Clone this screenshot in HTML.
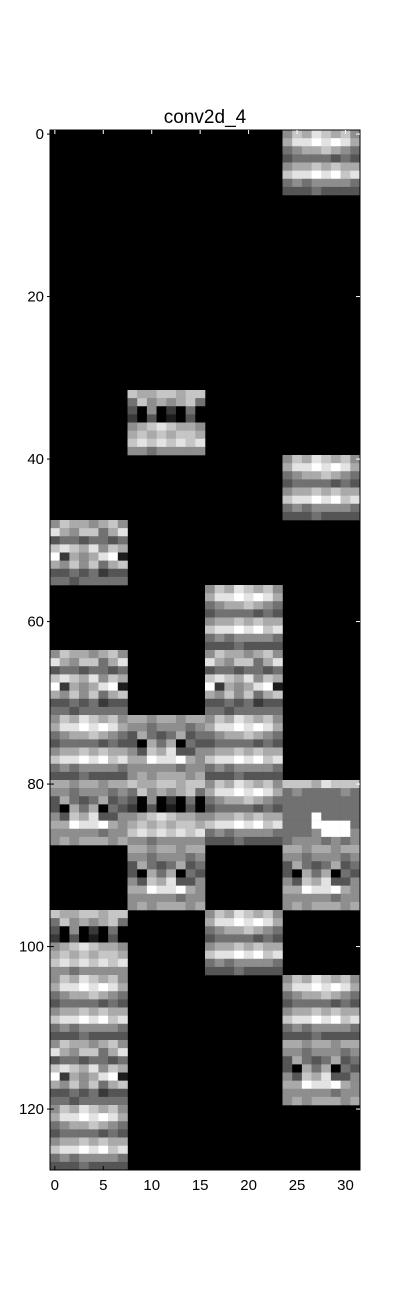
<!DOCTYPE html>
<html><head><meta charset="utf-8"><style>body{margin:0;background:#fff}svg{display:block}text{font-family:"Liberation Sans",sans-serif}</style></head>
<body>
<svg id="chart" width="400" height="1301" xmlns="http://www.w3.org/2000/svg">
<text x="205" y="123" font-size="19" text-anchor="middle">conv2d_4</text>
<g id="cells"></g>
<g id="axes"></g>
</svg>
<script>
// grid shape
const nCols = 32, nRows = 128;
// 8x8 tile patterns, grayscale levels 0-9
const patterns = [
 ["57665675","86577468","34434434","78768576","92656891","65757467","33434233","44344444"],
 ["66566566","55455545","36434634","30646043","53768335","66988965","55555455","56566656"],
 ["57687675","68898986","45667654","34444343","56676766","78898978","45455554","33343333"],
 ["76677677","47565674","30502040","20301030","56787665","67676776","78787878","55455555"],
 ["77768777","45444454","44444444","44444444","44494444","44499994","44459995","45554545"]
];
// active blocks: block row, block col, pattern index
const blockRows = [0,4,5,6,7,8,8,9,9,9,10,10,10,10,11,11,12,12,13,13,14,14,15];
const blockCols = [3,1,3,0,2,0,2,0,1,2,0,1,2,3,1,3,0,2,0,3,0,3,0];
const blockPats = [2,3,2,0,2,0,0,2,1,2,1,3,2,4,1,1,3,2,2,2,0,1,2];
// tick labels
const xTicks = [0,5,10,15,20,25,30];
const yTicks = [0,20,40,60,80,100,120];

const L=50,R=360,T=130,B=1170;
const cw=(R-L)/nCols, ch=(B-T)/nRows;
const xs=c=>L+c*cw, ys=r=>T+r*ch;
const NS="http://www.w3.org/2000/svg";
const cells=document.getElementById('cells'), axes=document.getElementById('axes');
function mk(tag,attrs,parent){const e=document.createElementNS(NS,tag);for(const k in attrs)e.setAttribute(k,attrs[k]);parent.appendChild(e);return e;}
const bg=mk('rect',{x:L,y:T,width:R-L,height:B-T,fill:'#000'},cells);


for(let b=0;b<blockRows.length;b++){
  const p=patterns[blockPats[b]];
  for(let i=0;i<8;i++)for(let j=0;j<8;j++){
    const v=Math.round(+p[i][j]*255/9);
    const r=blockRows[b]*8+i, c=blockCols[b]*8+j;
    const e=mk('rect',{x:xs(c).toFixed(2),y:ys(r).toFixed(2),width:(cw+0.3).toFixed(2),height:(ch+0.3).toFixed(2),fill:`rgb(${v},${v},${v})`},cells);
    
    
  }
}
const frame=mk('rect',{x:L,y:T,width:R-L,height:B-T,fill:'none',stroke:'#000','stroke-width':1},axes);


xTicks.forEach(t=>{
  const x=xs(t)+cw/2;
  mk('line',{x1:x,x2:x,y1:B,y2:B-4,stroke:'#000'},axes);
  mk('line',{x1:x,x2:x,y1:T,y2:T+4,stroke:'#fff'},axes);
  const tx=mk('text',{x:x,y:B+20,'font-size':15,'text-anchor':'middle'},axes);
  tx.textContent=t;
  
  
});
yTicks.forEach(t=>{
  const y=ys(t)+ch/2;
  mk('line',{x1:L-3,x2:L+4,y1:y,y2:y,stroke:'#000'},axes);
  mk('line',{x1:R,x2:R-4,y1:y,y2:y,stroke:'#fff'},axes);
  const tx=mk('text',{x:L-6,y:y+5,'font-size':15,'text-anchor':'end'},axes);
  tx.textContent=t;
  
  
});
</script>
</body></html>
